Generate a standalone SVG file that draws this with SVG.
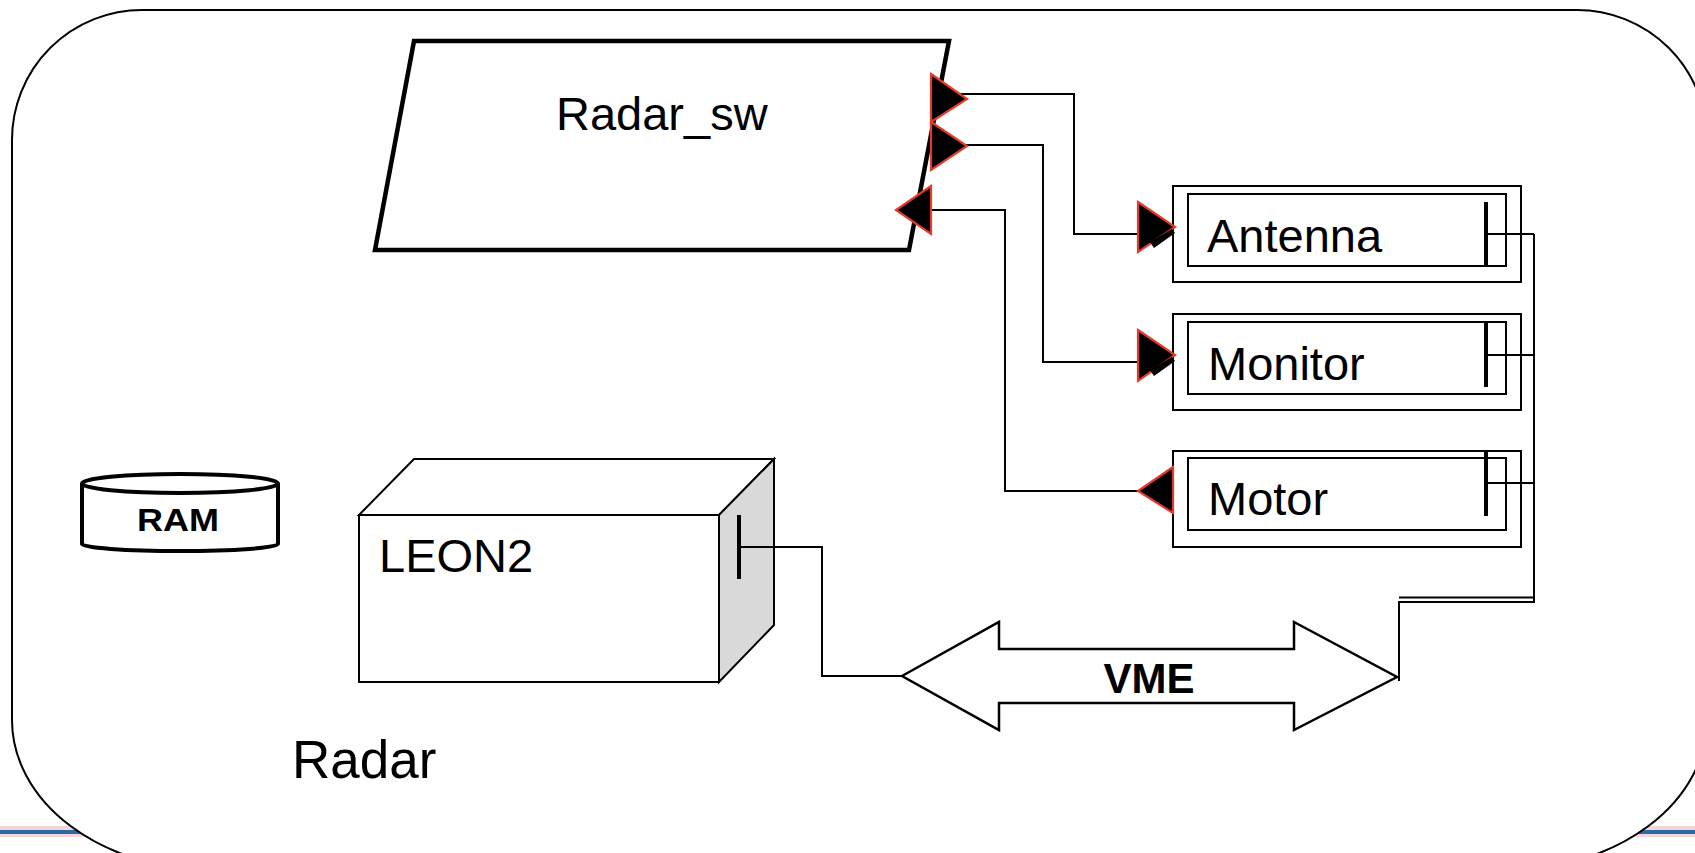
<svg xmlns="http://www.w3.org/2000/svg" width="1695" height="853" viewBox="0 0 1695 853">
  <style>
    .ln { fill: none; stroke: #000; stroke-width: 2; }
    .box { fill: #fff; stroke: #000; stroke-width: 2; }
    .bar { stroke: #000; stroke-width: 4; }
    .port { fill: #000; stroke: #e5392b; stroke-width: 2.2; stroke-linejoin: miter; }
    .lbl { font-family: "Liberation Sans", Arial, sans-serif; font-size: 47px; fill: #000; }
    .bold { font-family: "Liberation Sans", Arial, sans-serif; font-weight: bold; fill: #000; }
  </style>
  <rect x="0" y="0" width="1695" height="853" fill="#fff"/>
  <!-- background slide decoration -->
  <rect x="0" y="826" width="1695" height="4" fill="#f2d6dc"/>
  <rect x="0" y="830" width="1695" height="4" fill="#2d6aa1"/>
  <rect x="0" y="834" width="1695" height="3" fill="#f2d6dc"/>

  <!-- container: Radar -->
  <g id="radar">
    <path d="M12,140 A130,130 0 0 1 142,10 L1577,10 A130,130 0 0 1 1707,140 L1707,720 A200,150 0 0 1 1507,870 L212,870 A200,150 0 0 1 12,720 Z" fill="#fff" stroke="#000" stroke-width="2"/>
    <text class="lbl" x="292" y="778" style="font-size:53px">Radar</text>
  </g>

  <!-- Radar_sw -->
  <g id="radar_sw">
    <polygon points="414,41 949,41 909,250 375,250" fill="#fff" stroke="#000" stroke-width="4.5"/>
    <text class="lbl" x="556" y="130">Radar_sw</text>
  </g>

  <!-- RAM -->
  <g id="ram">
    <path d="M82,483.5 L82,544 A98,7 0 0 0 278,544 L278,483.5" fill="#fff" stroke="#000" stroke-width="4"/>
    <ellipse cx="180" cy="483.5" rx="98" ry="9.5" fill="#fff" stroke="#000" stroke-width="4"/>
    <text class="bold" x="137" y="531" style="font-size:32px" textLength="82" lengthAdjust="spacingAndGlyphs">RAM</text>
  </g>

  <!-- LEON2 -->
  <g id="leon2">
    <polygon points="359,515 414,459 774,459 719,515" fill="#fff" stroke="#000" stroke-width="2"/>
    <polygon points="719,515 774,459 774,625 719,682" fill="#d9d9d9" stroke="#000" stroke-width="2"/>
    <rect x="359" y="515" width="360" height="167" fill="#fff" stroke="#000" stroke-width="2"/>
    <line class="bar" x1="739" y1="515" x2="739" y2="579"/>
    <text class="lbl" x="379" y="572">LEON2</text>
  </g>

  <!-- Antenna -->
  <g id="antenna">
    <rect class="box" x="1173" y="186" width="348" height="96"/>
    <rect class="box" x="1188" y="194" width="318" height="72"/>
    <line class="bar" x1="1486" y1="202" x2="1486" y2="266"/>
    <text class="lbl" x="1207" y="252">Antenna</text>
  </g>

  <!-- Monitor -->
  <g id="monitor">
    <rect class="box" x="1173" y="314" width="348" height="96"/>
    <rect class="box" x="1188" y="322" width="318" height="72"/>
    <line class="bar" x1="1486" y1="323" x2="1486" y2="387"/>
    <text class="lbl" x="1208" y="380">Monitor</text>
  </g>

  <!-- Motor -->
  <g id="motor">
    <rect class="box" x="1173" y="451" width="348" height="96"/>
    <rect class="box" x="1188" y="458" width="318" height="72"/>
    <line class="bar" x1="1486" y1="451" x2="1486" y2="516"/>
    <text class="lbl" x="1208" y="515">Motor</text>
  </g>

  <!-- VME bus -->
  <g id="vme">
    <polygon points="902,676 999,622 999,649 1294,649 1294,622 1397,677 1294,730 1294,703 999,703 999,730" fill="#fff" stroke="#000" stroke-width="2.5"/>
    <text class="bold" x="1149" y="693" text-anchor="middle" style="font-size:42px">VME</text>
  </g>

  <!-- connectors -->
  <g id="connectors">
    <polyline class="ln" points="960,94 1074,94 1074,234 1139,234"/>
    <polyline class="ln" points="960,145 1043,145 1043,362 1139,362"/>
    <polyline class="ln" points="931,210 1005,210 1005,491 1140,491"/>
    <polyline class="ln" points="1486,234 1534,234"/>
    <polyline class="ln" points="1486,355 1534,355"/>
    <polyline class="ln" points="1486,483 1534,483"/>
    <polyline class="ln" points="1534,234 1534,602 1399,602 1399,681"/>
    <line class="ln" x1="1399" y1="597.5" x2="1534" y2="597.5"/>
    <polyline class="ln" points="739,547 822,547 822,676 902,676"/>
    <!-- port symbols -->
    <polygon class="port" points="931,74 967,99 931,122"/>
    <polygon class="port" points="931,122 967,146 931,170"/>
    <polygon class="port" points="931,186 896,210 931,234"/>
    <polygon class="port" points="1138,202 1175,227 1138,252"/>
    <polygon fill="#000" points="1150,242 1172,229 1175,233 1154,248"/>
    <polygon class="port" points="1138,330 1175,355 1138,381"/>
    <polygon fill="#000" points="1150,370 1172,357 1175,361 1154,376"/>
    <polygon class="port" points="1173,467 1138,491 1173,513"/>
  </g>
</svg>
